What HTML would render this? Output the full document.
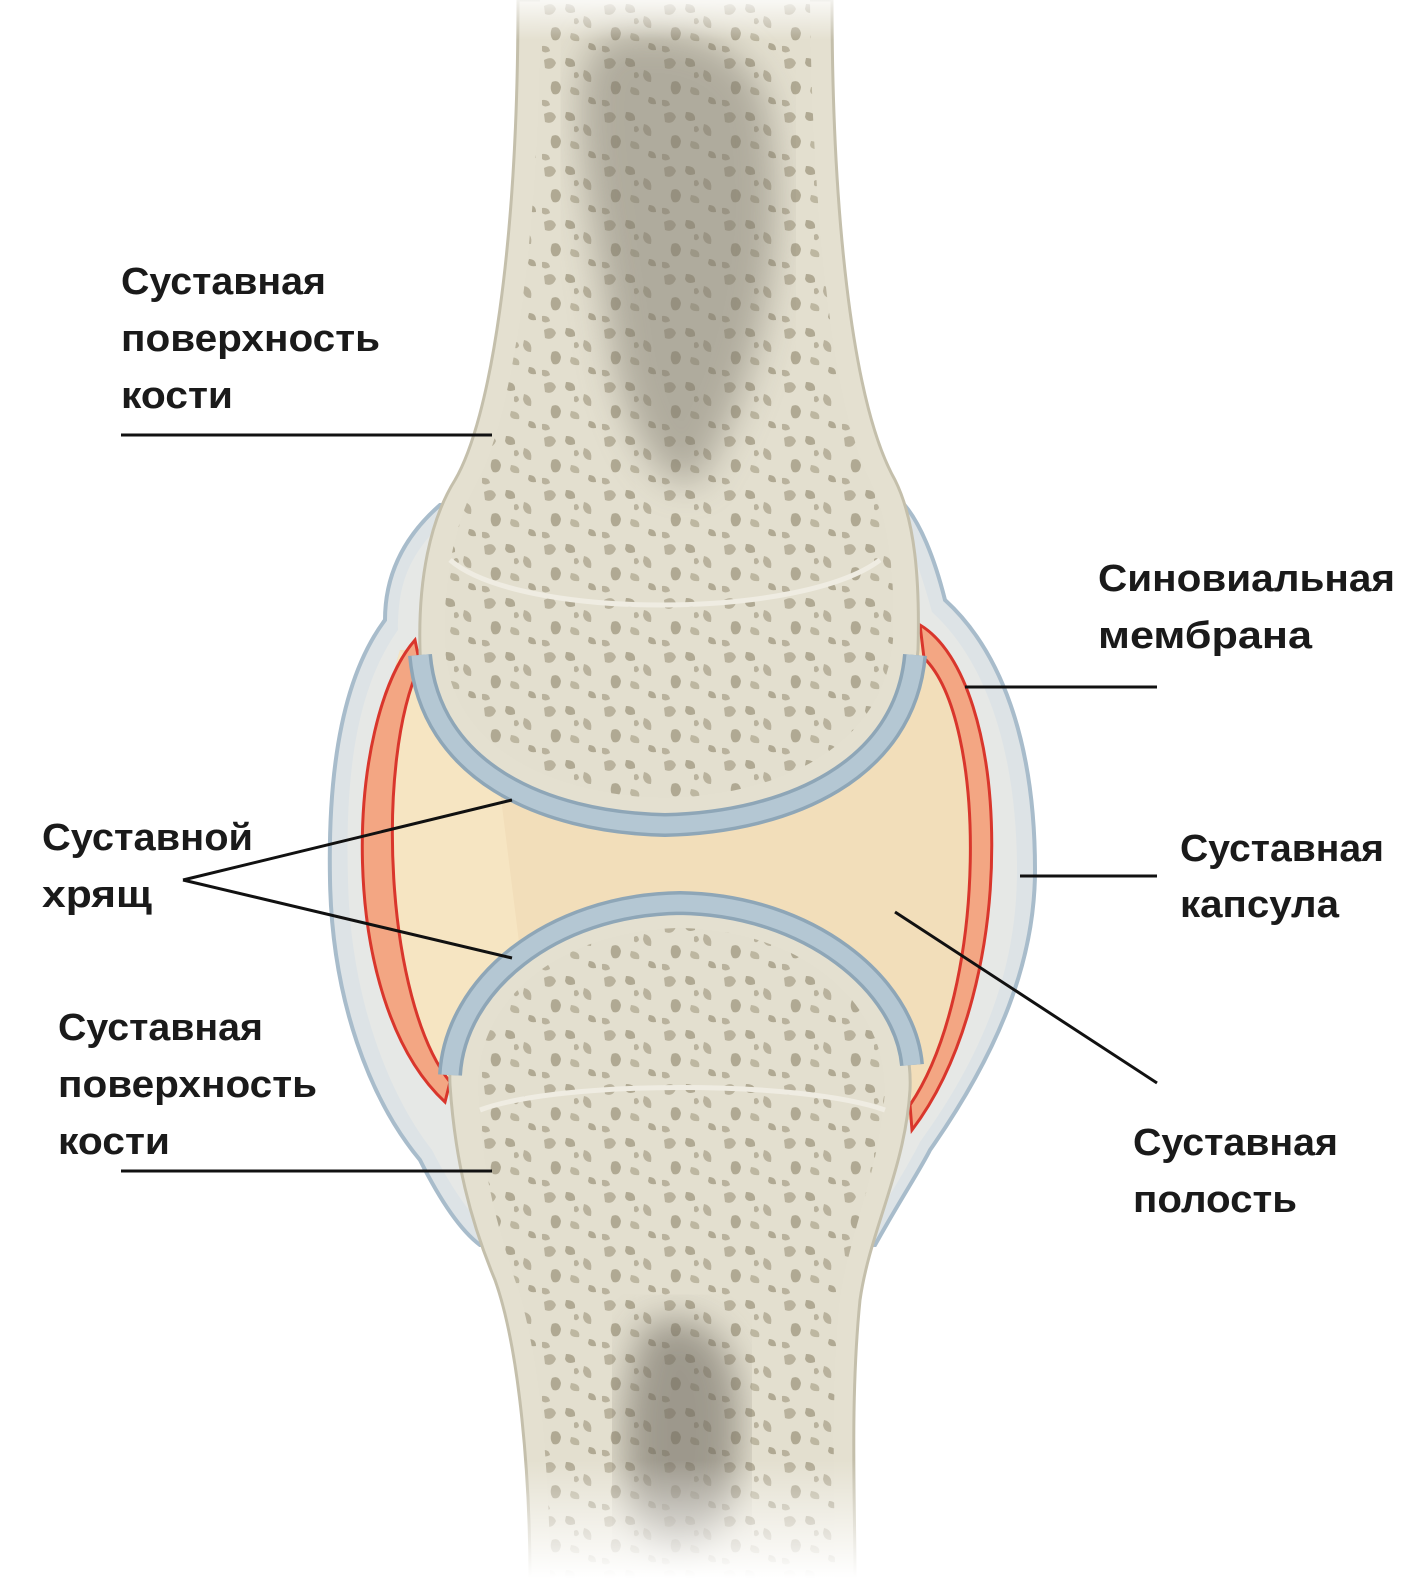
<!DOCTYPE html>
<html><head><meta charset="utf-8"><style>
html,body{margin:0;padding:0;background:#fff;}
svg{display:block;}
text{font-family:"Liberation Sans",sans-serif;font-weight:bold;font-size:38px;fill:#1a1a1a;}
</style></head><body>
<svg width="1425" height="1578" viewBox="0 0 1425 1578" xmlns="http://www.w3.org/2000/svg">
<defs>
<pattern id="sp" width="60" height="54" patternUnits="userSpaceOnUse">
<rect width="60" height="54" fill="#e3dfcf"/>
<path d="M4 6 q9 -5 12 3 q-3 8 -11 5z" fill="#b4ad97"/>
<path d="M26 4 q10 0 9 8 q-8 3 -10 -3z" fill="#aaa38c"/>
<path d="M44 16 q9 2 7 12 q-7 0 -8 -7z" fill="#b4ad97"/>
<path d="M12 28 q7 -3 9 5 q-1 9 -8 7 q-4 -5 -1 -12z" fill="#aaa38c"/>
<path d="M31 33 q10 1 8 8 q-8 1 -9 -4z" fill="#b9b29c"/>
<path d="M49 43 q7 0 7 7 q-7 1 -8 -3z" fill="#aaa38c"/>
<path d="M2 46 q7 -1 8 5 q-5 3 -8 0z" fill="#b4ad97"/>
<path d="M34 19 q4 -3 5 3 q-3 4 -5 1z" fill="#b4ad97"/>
</pattern>
<filter id="bl"><feGaussianBlur stdDeviation="18"/></filter>
<linearGradient id="fb" x1="0" y1="0" x2="0" y2="1">
<stop offset="0" stop-color="#fff" stop-opacity="0"/><stop offset="1" stop-color="#fff" stop-opacity="1"/></linearGradient>
<linearGradient id="ft" x1="0" y1="0" x2="0" y2="1">
<stop offset="0" stop-color="#fff" stop-opacity="0.8"/><stop offset="1" stop-color="#fff" stop-opacity="0"/></linearGradient>
<clipPath id="cu"><path d="M540,0 L810,0 C812,200 830,400 870,480 C890,520 895,580 893,640 C885,740 790,795 665,798 C540,795 445,740 445,640 C443,580 455,520 478,480 C510,420 540,250 540,0 Z"/></clipPath>
<clipPath id="cl"><path d="M478,1090 C475,1000 560,930 680,928 C800,930 885,1000 885,1090 C880,1170 850,1230 840,1300 C830,1400 835,1500 835,1578 L550,1578 C550,1480 540,1350 515,1280 C495,1220 480,1160 478,1090 Z"/></clipPath>
</defs>

<!-- capsule -->
<path d="M440,505 C400,540 385,580 385,620 C340,680 328,780 330,880 C332,1000 370,1100 420,1160 C440,1200 460,1230 480,1245 L875,1245 C900,1200 920,1170 930,1150 C1000,1050 1035,960 1035,870 C1035,740 1000,650 945,600 C935,560 920,520 900,500 Z" fill="#dde3e6" stroke="#a8bccb" stroke-width="4"/>
<path d="M440,525 C405,560 398,590 398,630 C355,690 345,780 348,880 C350,990 385,1090 432,1150 C450,1185 468,1212 485,1228 L870,1228 C893,1190 910,1162 920,1142 C990,1045 1017,960 1017,870 C1017,750 985,660 932,612 C922,575 910,540 895,520 Z" fill="#e6e8e6"/>
<!-- cavity -->
<path d="M400,650 C365,760 365,1000 440,1095 L915,1120 C995,1000 995,760 930,635 Z" fill="#f2deba"/>
<path d="M400,650 C370,760 372,990 440,1090 L520,950 L500,790 Z" fill="#f8e8c6" opacity="0.7"/>
<!-- membranes -->
<path d="M415,640 C345,720 335,1000 445,1102 L450,1082 C385,1000 375,760 420,665 Z" fill="#f3a683" stroke="#d9362c" stroke-width="3"/>
<path d="M920,625 C1012,680 1022,985 912,1130 L910,1105 C988,990 988,720 924,658 Z" fill="#f3a683" stroke="#d9362c" stroke-width="3"/>

<!-- upper bone -->
<path d="M518,0 L832,0 C832,200 850,400 895,480 C915,520 920,580 918,650 C910,760 800,825 665,828 C530,825 420,760 420,650 C418,580 430,520 455,480 C490,420 518,250 518,0 Z" fill="#e4e0d0" stroke="#c4bfab" stroke-width="3"/>
<g clip-path="url(#cu)"><rect x="400" y="0" width="520" height="830" fill="url(#sp)" opacity="0.9"/>
<path d="M600,40 C650,20 760,30 770,120 C790,250 760,380 700,480 C660,500 620,420 610,330 C590,200 560,80 600,40Z" fill="#7d786c" opacity="0.5" filter="url(#bl)"/></g>
<path d="M450,560 C520,620 800,620 880,560" fill="none" stroke="#efece2" stroke-width="5"/>
<!-- upper cartilage -->
<path d="M420,655 C430,770 540,822 665,825 C790,822 905,770 915,655" fill="none" stroke="#8ea6b7" stroke-width="24"/>
<path d="M420,655 C430,770 540,822 665,825 C790,822 905,770 915,655" fill="none" stroke="#b4c7d3" stroke-width="17"/>

<!-- lower bone -->
<path d="M450,1085 C445,990 540,905 680,903 C820,905 915,990 910,1090 C905,1170 870,1230 860,1300 C850,1400 855,1500 855,1578 L530,1578 C530,1480 520,1350 495,1280 C470,1220 455,1160 450,1085 Z" fill="#e4e0d0" stroke="#c4bfab" stroke-width="3"/>
<g clip-path="url(#cl)"><rect x="440" y="900" width="480" height="680" fill="url(#sp)" opacity="0.9"/>
<path d="M640,1330 C690,1300 740,1330 740,1420 C740,1500 720,1560 680,1560 C630,1560 620,1480 625,1400 Z" fill="#6f6a60" opacity="0.6" filter="url(#bl)"/></g>
<path d="M480,1110 C560,1080 800,1080 885,1110" fill="none" stroke="#efece2" stroke-width="5"/>
<path d="M450,1075 C455,985 550,905 680,903 C810,905 905,985 912,1065" fill="none" stroke="#8ea6b7" stroke-width="24"/>
<path d="M450,1075 C455,985 550,905 680,903 C810,905 905,985 912,1065" fill="none" stroke="#b4c7d3" stroke-width="17"/>

<rect x="480" y="1460" width="420" height="118" fill="url(#fb)"/>
<rect x="480" y="0" width="400" height="40" fill="url(#ft)"/>

<!-- leader lines -->
<g stroke="#111" stroke-width="3" fill="none">
<line x1="121" y1="435" x2="492" y2="435"/>
<line x1="965" y1="687" x2="1157" y2="687"/>
<line x1="183" y1="880" x2="512" y2="800"/>
<line x1="183" y1="880" x2="512" y2="958"/>
<line x1="1020" y1="876" x2="1157" y2="876"/>
<line x1="121" y1="1171" x2="492" y2="1171"/>
<line x1="895" y1="912" x2="1157" y2="1083"/>
</g>

<!-- labels -->
<text x="121" y="294" textLength="205" lengthAdjust="spacingAndGlyphs">Суставная</text>
<text x="121" y="351" textLength="259" lengthAdjust="spacingAndGlyphs">поверхность</text>
<text x="121" y="408" textLength="112" lengthAdjust="spacingAndGlyphs">кости</text>
<text x="1098" y="591" textLength="297" lengthAdjust="spacingAndGlyphs">Синовиальная</text>
<text x="1098" y="648" textLength="214" lengthAdjust="spacingAndGlyphs">мембрана</text>
<text x="42" y="850" textLength="211" lengthAdjust="spacingAndGlyphs">Суставной</text>
<text x="42" y="907" textLength="110" lengthAdjust="spacingAndGlyphs">хрящ</text>
<text x="1180" y="861" textLength="204" lengthAdjust="spacingAndGlyphs">Суставная</text>
<text x="1180" y="917" textLength="159" lengthAdjust="spacingAndGlyphs">капсула</text>
<text x="58" y="1040" textLength="205" lengthAdjust="spacingAndGlyphs">Суставная</text>
<text x="58" y="1097" textLength="259" lengthAdjust="spacingAndGlyphs">поверхность</text>
<text x="58" y="1154" textLength="112" lengthAdjust="spacingAndGlyphs">кости</text>
<text x="1133" y="1155" textLength="205" lengthAdjust="spacingAndGlyphs">Суставная</text>
<text x="1133" y="1212" textLength="164" lengthAdjust="spacingAndGlyphs">полость</text>
</svg>
</body></html>
